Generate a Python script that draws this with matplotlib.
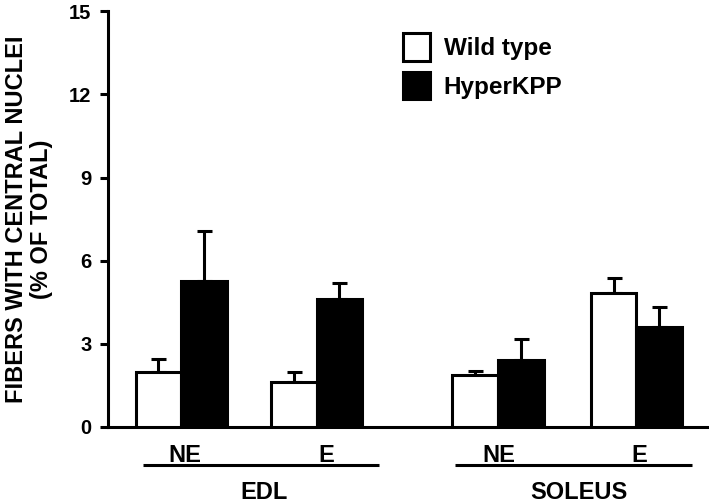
import matplotlib
matplotlib.use("Agg")
import matplotlib.pyplot as plt
import numpy as np
from matplotlib.patches import Patch

plt.rcParams['font.family'] = ['Liberation Sans', 'DejaVu Sans']
plt.rcParams['font.weight'] = 'bold'

# data
muscles = ["EDL", "SOLEUS"]
conditions = ["NE", "E"]
series_names = ["Wild type", "HyperKPP"]
wild_type = [1.97, 1.64, 1.88, 4.83]
wild_type_err = [0.48, 0.36, 0.15, 0.54]
hyperkpp = [5.28, 4.61, 2.42, 3.60]
hyperkpp_err = [1.80, 0.60, 0.75, 0.74]
y_ticks = [0, 3, 6, 9, 12, 15]

# layout (x positions in axis units, axis spans 0..6.01)
centers = np.array([0.73, 2.08, 3.89, 5.27])
cond_label_x = [0.77, 2.18, 3.895, 5.295]
group_lines = [(0.347, 2.707), (3.46, 5.82)]
muscle_label_x = [1.56, 4.70]
width = 0.455
lw = 2.2

fig = plt.figure(figsize=(7.09, 5.04), dpi=100)
ax = fig.add_axes([0.1523, 0.1528, 0.85, 0.825])

ax.bar(centers - width / 2, wild_type, width, color='white', edgecolor='black',
       linewidth=lw, zorder=3)
ax.bar(centers + width / 2, hyperkpp, width, color='black', edgecolor='black',
       linewidth=lw, zorder=3)

ek = dict(fmt='none', ecolor='black', elinewidth=lw, capsize=5.4, capthick=lw, zorder=2)
ax.errorbar(centers - width / 2, wild_type,
            yerr=[np.zeros(4), wild_type_err], **ek)
ax.errorbar(centers + width / 2, hyperkpp,
            yerr=[np.zeros(4), hyperkpp_err], **ek)

ax.set_xlim(0, 6.01)
ax.set_ylim(0, 15)
ax.set_yticks(y_ticks)
ax.set_yticklabels([str(t) for t in y_ticks], fontsize=14.5, fontweight='bold')
ax.set_xticks([])
ax.tick_params(axis='y', width=lw, length=6, pad=6)

for s in ['top', 'right']:
    ax.spines[s].set_visible(False)
for s in ['left', 'bottom']:
    ax.spines[s].set_linewidth(lw)

# two-line y label
ax.text(-0.152, 0.5, "FIBERS WITH CENTRAL NUCLEI", transform=ax.transAxes,
        rotation=90, ha='center', va='center', fontsize=17, fontweight='bold')
ax.text(-0.1105, 0.5, "(% OF TOTAL)", transform=ax.transAxes,
        rotation=90, ha='center', va='center', fontsize=17, fontweight='bold')

# condition labels, group underlines and muscle labels
trans = ax.get_xaxis_transform()
for i, x in enumerate(cond_label_x):
    ax.text(x, -0.0849, conditions[i % 2], transform=trans, ha='center', va='baseline',
            fontsize=17, fontweight='bold', clip_on=False)
for (x0, x1), m, mx in zip(group_lines, muscles, muscle_label_x):
    ax.plot([x0, x1], [-0.0925, -0.0925], transform=trans, color='black',
            linewidth=lw, clip_on=False, solid_capstyle='butt')
    ax.text(mx, -0.173, m, transform=trans, ha='center', va='baseline',
            fontsize=17, fontweight='bold', clip_on=False)

handles = [Patch(facecolor='white', edgecolor='black', linewidth=lw),
           Patch(facecolor='black', edgecolor='black', linewidth=lw)]
ax.legend(handles, series_names, loc='upper left', bbox_to_anchor=(0.489, 0.947),
          frameon=False, prop={'size': 17.5, 'weight': 'bold'},
          handlelength=1.11, handleheight=1.37, labelspacing=0.45, handletextpad=0.58,
          borderaxespad=0, borderpad=0)

fig.savefig("out.png", dpi=100)
